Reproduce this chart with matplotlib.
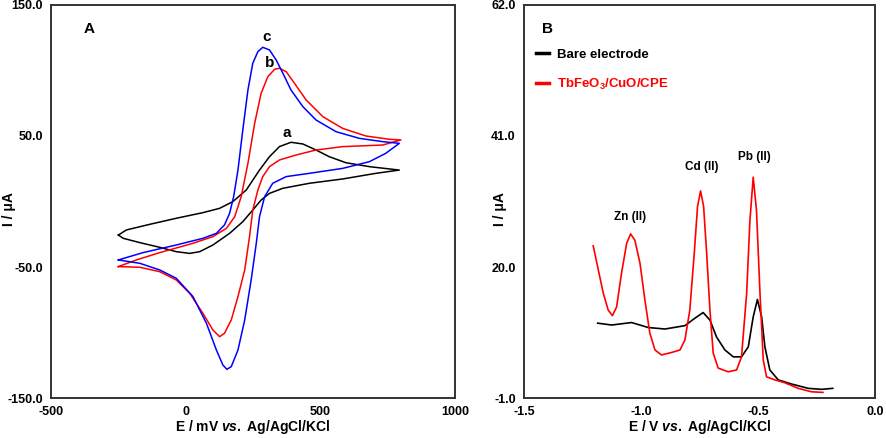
import matplotlib
matplotlib.use("Agg")
import matplotlib.pyplot as plt

plt.rcParams['font.family'] = ['Liberation Sans', 'DejaVu Sans']
plt.rcParams['font.weight'] = 'bold'
plt.rcParams['axes.labelweight'] = 'bold'
plt.rcParams['mathtext.fontset'] = 'custom'
plt.rcParams['mathtext.it'] = 'Liberation Sans:italic:bold'
plt.rcParams['mathtext.bf'] = 'Liberation Sans:bold'
plt.rcParams['mathtext.rm'] = 'Liberation Sans:bold'
plt.rcParams['mathtext.default'] = 'regular'

# ---- Panel A: cyclic voltammograms (E in mV, I in uA), forward then reverse scan ----
# curve a (bare electrode)
a_E = [-250, -220, -133, -35, 64, 126, 175, 225, 274, 311, 348, 391, 435, 484, 533, 595, 682, 793,
       706, 583, 459, 361, 311, 280, 249, 212, 163, 101, 52, 15, -35, -96, -170, -232, -250]
a_I = [-25.6, -21.7, -17.4, -12.8, -8.5, -5.2, -0.1, 8.8, 24.0, 34.2, 41.9, 45.2, 43.9, 39.3, 34.2, 29.6, 26.6, 24.0,
       21.5, 17.2, 13.9, 10.1, 6.2, 1.1, -6.5, -15.4, -24.3, -33.2, -38.3, -39.6, -38.3, -35.0, -31.4, -28.1, -25.6]

# curve b (red)
b_E = [-250, -183, -96, 27, 101, 151, 182, 206, 231, 256, 280, 305, 330, 348, 373, 404, 447, 509, 583, 669, 756, 799,
       731, 583, 484, 410, 348, 311, 286, 268, 249, 237, 219, 194, 169, 144, 126, 101, 64, 15, -35, -96, -170, -250]
b_I = [-49.7, -44.6, -39.0, -31.9, -26.8, -20.5, -11.6, 3.7, 29.1, 59.7, 82.6, 95.3, 100.9, 101.7, 99.1, 90.2, 77.5, 64.8, 55.8, 50.0, 47.5, 47.0,
       43.1, 41.9, 39.3, 35.5, 31.7, 26.6, 19.0, 8.8, -6.5, -26.8, -52.3, -72.6, -90.5, -100.6, -103.2, -98.1, -85.4, -70.1, -59.9, -53.6, -50.2, -49.7]

# curve c (blue)
c_E = [-250, -158, -35, 64, 114, 144, 163, 178, 194, 212, 231, 249, 268, 286, 311, 336, 361, 391, 435, 484, 558, 645, 731, 793,
       743, 682, 583, 459, 373, 323, 293, 274, 262, 243, 219, 194, 169, 153, 138, 114, 77, 27, -35, -96, -170, -250]
c_I = [-44.6, -39.0, -33.2, -28.1, -24.3, -17.9, -9.0, 3.7, 24.0, 54.6, 85.1, 105.5, 114.4, 117.7, 115.7, 108.0, 97.8, 85.1, 72.4, 62.2, 53.3, 48.2, 45.7, 44.4,
       36.8, 30.4, 25.3, 21.5, 19.0, 13.9, 3.7, -11.6, -32.0, -59.9, -90.5, -113.4, -126.1, -128.1, -124.8, -113.4, -93.0, -72.6, -58.6, -52.3, -47.2, -44.6]

curve_letters = ['c', 'b', 'a']
letter_E = [299, 311, 376]
letter_I = [125.8, 105.5, 52.5]

# ---- Panel B: stripping voltammograms (E in V, I in uA) ----
bare_E = [-1.185, -1.125, -1.040, -0.969, -0.897, -0.812, -0.769, -0.734, -0.705, -0.677, -0.641, -0.605, -0.570,
          -0.541, -0.520, -0.502, -0.484, -0.470, -0.449, -0.413, -0.356, -0.285, -0.228, -0.180]
bare_I = [11.0, 10.7, 11.1, 10.3, 10.06, 10.6, 11.8, 12.7, 11.5, 8.8, 6.7, 5.6, 5.6,
          7.2, 12.0, 14.8, 12.0, 7.2, 3.5, 1.9, 1.24, 0.55, 0.39, 0.55]

mod_E = [-1.204, -1.182, -1.161, -1.140, -1.122, -1.104, -1.083, -1.061, -1.044, -1.026, -1.004, -0.983, -0.962,
         -0.940, -0.912, -0.869, -0.833, -0.812, -0.791, -0.772, -0.758, -0.745, -0.732, -0.719, -0.705, -0.691,
         -0.670, -0.627, -0.591, -0.570, -0.548, -0.534, -0.520, -0.506, -0.491, -0.477, -0.463, -0.427, -0.385,
         -0.328, -0.271, -0.222]
mod_I = [23.4, 19.5, 15.8, 13.1, 12.2, 13.6, 19.0, 23.8, 25.3, 24.3, 20.6, 14.7, 9.4,
         6.7, 5.9, 6.3, 6.7, 8.3, 13.1, 22.2, 29.7, 32.2, 29.7, 22.2, 13.1, 6.2,
         3.8, 3.2, 3.5, 5.6, 15.8, 27.5, 34.4, 29.1, 15.8, 5.1, 2.4, 1.9, 1.45,
         0.55, 0.0, -0.1]

peak_names = ['Zn (II)', 'Cd (II)', 'Pb (II)']
peak_label_E = [-1.047, -0.740, -0.514]
peak_label_I = [28.0, 36.1, 37.6]

fig = plt.figure(figsize=(8.86, 4.38), dpi=100)
axA = fig.add_axes([0.0576, 0.0913, 0.4560, 0.8973])
axB = fig.add_axes([0.5914, 0.0913, 0.3960, 0.8973])

spine_col = '#333333'

# Panel A
axA.plot(a_E, a_I, color='black', lw=1.1)
axA.plot(b_E, b_I, color='#ff0000', lw=1.1)
axA.plot(c_E, c_I, color='#0000ff', lw=1.1)
for s, x, y in zip(curve_letters, letter_E, letter_I):
    axA.text(x, y, s, fontsize=11, ha='center', va='center')
axA.text(0.095, 0.94, 'A', transform=axA.transAxes, fontsize=11, ha='center', va='center')
axA.set_xlim(-500, 1000)
axA.set_ylim(-150, 150)
axA.set_xticks([-500, 0, 500, 1000])
axA.set_xticklabels(['-500', '0', '500', '1000'])
axA.set_yticks([-150, -50, 50, 150])
axA.set_yticklabels(['-150.0', '-50.0', '50.0', '150.0'])
axA.set_xlabel(r'E / mV $\mathit{vs.}$ Ag/AgCl/KCl', fontsize=10)
axA.set_ylabel('I / μA', fontsize=10)
axA.yaxis.set_label_coords(-0.105, 0.48)

# Panel B
axB.plot(bare_E, bare_I, color='black', lw=1.2, label='Bare electrode')
axB.plot(mod_E, mod_I, color='#ff0000', lw=1.2, label='TbFeO$_3$/CuO/CPE')
for name, x, y in zip(peak_names, peak_label_E, peak_label_I):
    axB.text(x, y, name, fontsize=8.5, ha='center', va='center')
axB.text(0.068, 0.94, 'B', transform=axB.transAxes, fontsize=11, ha='center', va='center')
leg = axB.legend(loc='upper left', bbox_to_anchor=(0.0, 0.92), frameon=False, fontsize=9.5,
                 handlelength=1.0, handletextpad=0.6, labelspacing=1.25, borderaxespad=0.5)
for txt, col in zip(leg.get_texts(), ['black', '#ff0000']):
    txt.set_color(col)
for line in leg.get_lines():
    line.set_linewidth(2.5)
axB.set_xlim(-1.5, 0.0)
axB.set_ylim(-1.0, 62.0)
axB.set_xticks([-1.5, -1.0, -0.5, 0.0])
axB.set_xticklabels(['-1.5', '-1.0', '-0.5', '0.0'])
axB.set_yticks([-1.0, 20.0, 41.0, 62.0])
axB.set_yticklabels(['-1.0', '20.0', '41.0', '62.0'])
axB.set_xlabel(r'E / V $\mathit{vs.}$ Ag/AgCl/KCl', fontsize=10)
axB.set_ylabel('I / μA', fontsize=10)
axB.yaxis.set_label_coords(-0.068, 0.48)

for ax in (axA, axB):
    for sp in ax.spines.values():
        sp.set_color(spine_col)
        sp.set_linewidth(1.4)
    ax.tick_params(length=0, labelsize=9, pad=6)
    ax.xaxis.set_label_coords(0.5, -0.074)
    ax.xaxis.label.set_va('center')
    ax.yaxis.label.set_va('center')

fig.savefig('out.png', dpi=100)
